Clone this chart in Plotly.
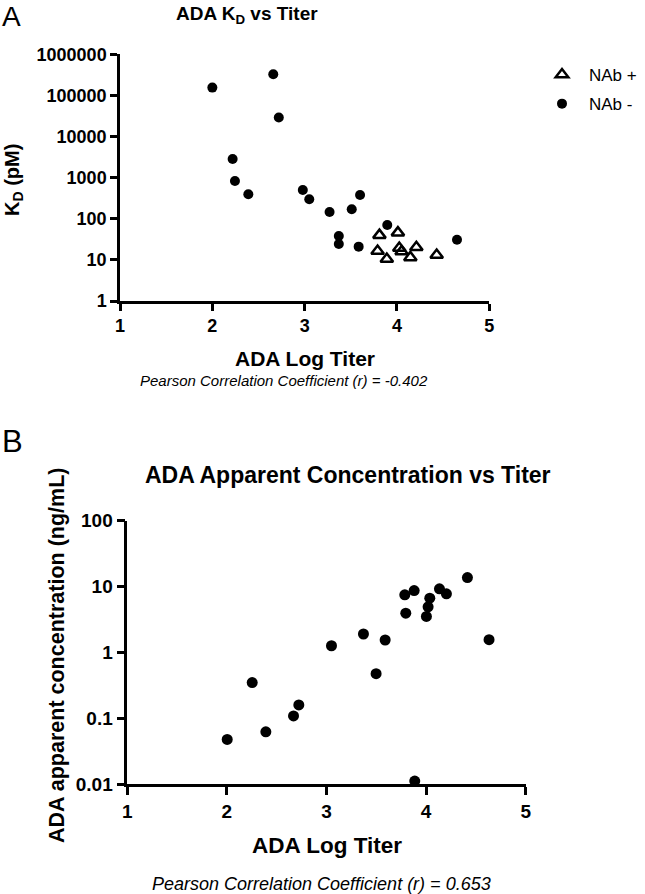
import plotly.graph_objects as go

# ---------------- data ----------------
# Panel A: ADA KD vs titer
nab_pos_titer = [3.81, 4.01, 3.79, 3.89, 4.025, 4.05, 4.145, 4.21, 4.43]
nab_pos_kd = [40, 46, 16.5, 10.5, 19.5, 15.9, 11.5, 20.2, 13.2]

nab_neg_titer = [2.00, 2.66, 2.72, 2.22, 2.245, 2.39, 2.98, 3.05, 3.27, 3.51, 3.60,
                 3.37, 3.37, 3.585, 3.895, 4.65]
nab_neg_kd = [155000, 327000, 28900, 2850, 830, 394, 500, 298, 146, 170, 379,
              38, 24.4, 21, 70.6, 31]

# Panel B: ADA apparent concentration vs titer
conc_titer = [2.003, 2.254, 2.391, 2.669, 2.722, 3.05, 3.371, 3.498, 3.589, 3.786,
              3.796, 3.88, 4.003, 4.02, 4.037, 4.134, 4.204, 4.415, 4.632, 3.886]
conc_value = [0.0475, 0.347, 0.062, 0.108, 0.159, 1.26, 1.90, 0.475, 1.54, 7.48,
              3.94, 8.69, 3.51, 4.92, 6.65, 9.22, 7.74, 13.7, 1.56, 0.0111]

x_ticks = [1, 2, 3, 4, 5]
x_ticklabels = ["1", "2", "3", "4", "5"]
kd_ticks = [1, 10, 100, 1000, 10000, 100000, 1000000]
kd_ticklabels = ["1", "10", "100", "1000", "10000", "100000", "1000000"]
conc_ticks = [0.01, 0.1, 1, 10, 100]
conc_ticklabels = ["0.01", "0.1", "1", "10", "100"]

# ---------------- layout helpers ----------------
W, H = 645, 894
FONT = "Liberation Sans, Arial, sans-serif"


def px(x):
    return x / W


def py(y):
    return 1 - y / H


fig = go.Figure()

fig.add_trace(go.Scatter(
    x=nab_pos_titer, y=nab_pos_kd, mode="markers", name="NAb +",
    legendgroup="a",
    marker=dict(symbol="triangle-up-open", size=11, color="black",
                line=dict(width=2.5, color="black")),
    cliponaxis=False, xaxis="x", yaxis="y"))
fig.add_trace(go.Scatter(
    x=nab_neg_titer, y=nab_neg_kd, mode="markers", name="NAb -",
    legendgroup="b",
    marker=dict(symbol="circle", size=10, color="black"),
    cliponaxis=False, xaxis="x", yaxis="y"))
fig.add_trace(go.Scatter(
    x=conc_titer, y=conc_value, mode="markers", showlegend=False,
    marker=dict(symbol="circle", size=11, color="black"),
    cliponaxis=False, xaxis="x2", yaxis="y2"))

axis_common = dict(showline=True, linecolor="black", linewidth=2.5,
                   showgrid=False, zeroline=False, ticks="outside",
                   tickcolor="black", tickwidth=2.5, automargin=False)

fig.update_layout(
    width=W, height=H,
    margin=dict(l=0, r=0, t=0, b=0, autoexpand=False),
    paper_bgcolor="white", plot_bgcolor="white",
    font=dict(family=FONT, color="black"),
    xaxis=dict(domain=[px(120), px(489.3)], range=[1, 5], tickvals=x_ticks,
               ticktext=x_ticklabels, ticklen=7, anchor="y",
               tickfont=dict(size=18, family=FONT, weight="bold"),
               **axis_common),
    yaxis=dict(domain=[py(301), py(54.3)], type="log", range=[0, 6],
               tickvals=kd_ticks, ticktext=kd_ticklabels, ticklen=7, anchor="x",
               tickfont=dict(size=18, family=FONT, weight="bold"),
               **axis_common),
    xaxis2=dict(domain=[px(127.3), px(525.7)], range=[1, 5], tickvals=x_ticks,
                ticktext=x_ticklabels, ticklen=8, anchor="y2",
                tickfont=dict(size=19, family=FONT, weight="bold"),
                **axis_common),
    yaxis2=dict(domain=[py(784), py(520.7)], type="log", range=[-2, 2],
                tickvals=conc_ticks, ticktext=conc_ticklabels, ticklen=8,
                anchor="x2",
                tickfont=dict(size=19, family=FONT, weight="bold"),
                **axis_common),
    legend=dict(x=px(535), y=py(57), xanchor="left", yanchor="top",
                font=dict(size=17, family=FONT), tracegroupgap=4,
                itemwidth=44, bgcolor="rgba(0,0,0,0)"),
    showlegend=True,
)


def ann(text, x, y, size, bold=False, italic=False, angle=0, xanchor="center"):
    fig.add_annotation(
        text=text, x=px(x), y=py(y), xref="paper", yref="paper",
        xanchor=xanchor, yanchor="middle", showarrow=False, textangle=angle,
        font=dict(size=size, family=FONT, color="black",
                  weight="bold" if bold else "normal",
                  style="italic" if italic else "normal"))


# Panel A texts
ann("A", 0, 16, 28, xanchor="left")
ann("ADA K<sub>D</sub> vs Titer", 247, 15, 19, bold=True)
ann("K<sub>D</sub> (pM)", 14, 180, 20, bold=True, angle=-90)
ann("ADA Log Titer", 305, 358, 21, bold=True)
ann("Pearson Correlation Coefficient (r) = -0.402", 284, 380, 15, italic=True)

# Panel B texts
ann("B", 0, 441, 31, xanchor="left")
ann("ADA Apparent Concentration vs Titer", 348, 475, 23, bold=True)
ann("ADA apparent concentration (ng/mL)", 57, 656, 21.5, bold=True, angle=-90)
ann("ADA Log Titer", 327, 845, 22.5, bold=True)
ann("Pearson Correlation Coefficient (r) = 0.653", 321, 884, 18, italic=True)

fig.write_html("out.html",
               config={"displayModeBar": False},
               post_script="document.body.style.margin='0';"
                           "document.body.style.overflow='hidden';")
